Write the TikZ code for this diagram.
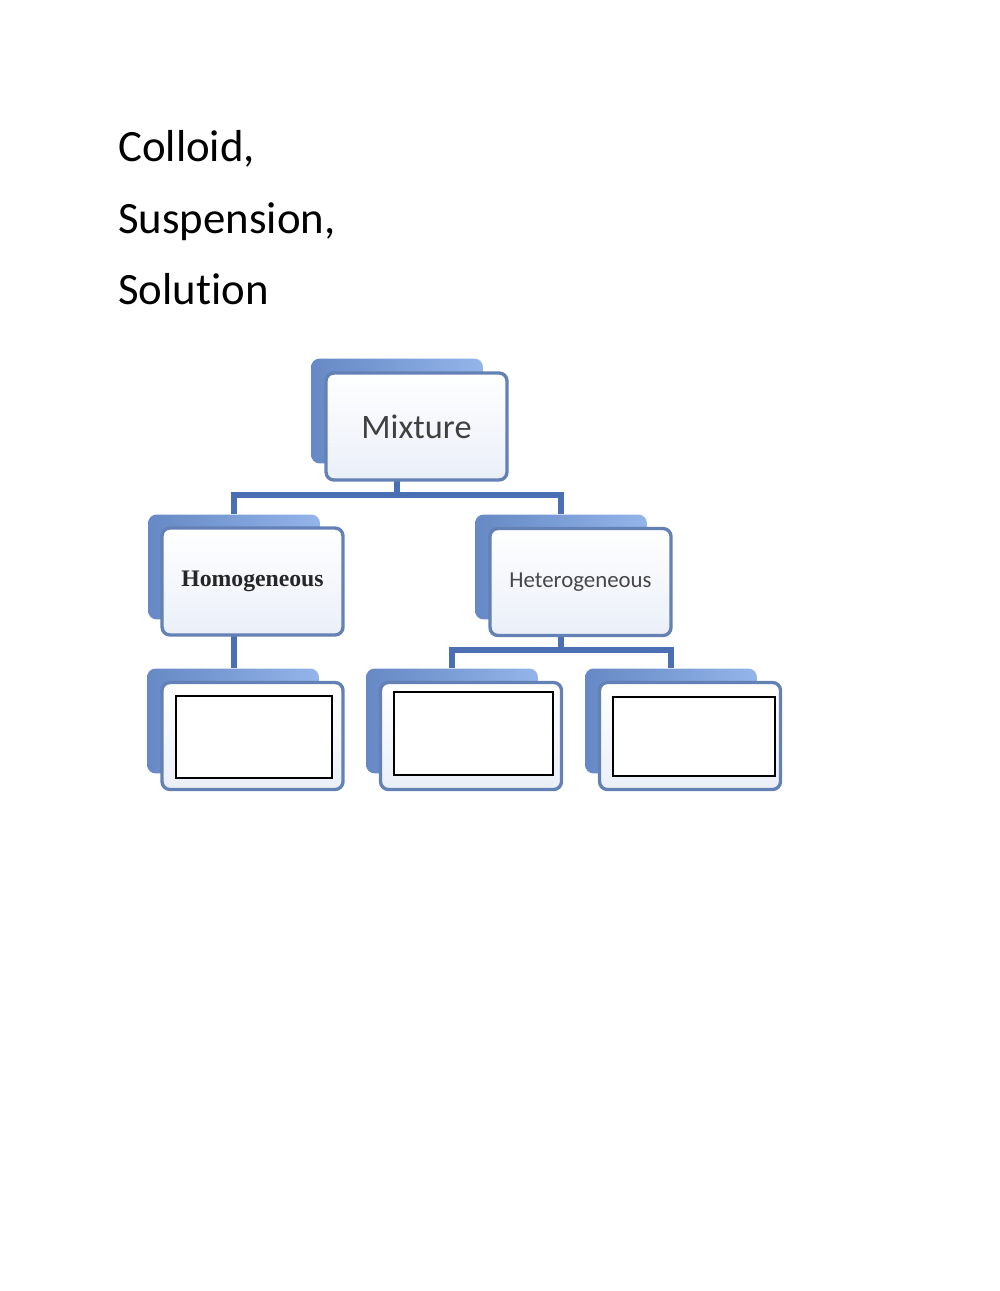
\documentclass[tikz,border=0pt]{standalone}
\usepackage{fontspec}
\setmainfont{Carlito}[Ligatures=NoCommon]
\newfontfamily\titlefont{Liberation Serif}

\definecolor{linkblue}{HTML}{4A70B3}
\definecolor{backdark}{HTML}{6688C4}
\definecolor{backlight}{HTML}{93B5EA}
\definecolor{frameblue}{HTML}{6481B6}
\definecolor{boxfill}{HTML}{EAEFF8}
\definecolor{labelgray}{HTML}{404040}

\begin{document}
\begin{tikzpicture}[x=0.02cm,y=-0.02cm,
  back/.style={rounded corners=5pt,left color=backdark,right color=backlight,
    minimum width=3.44cm,minimum height=2.1cm,inner sep=0pt},
  front/.style={draw=frameblue,line width=1.9pt,rounded corners=4.5pt,
    top color=white,bottom color=boxfill,
    minimum width=3.62cm,minimum height=2.14cm,inner sep=0pt},
  link/.style={draw=linkblue,line width=3.3pt},
  blank/.style={draw=black,line width=0.7pt,fill=white,inner sep=0pt},
  word/.style={anchor=base west,inner sep=0pt,font=\fontsize{25.5}{30}\selectfont}]

\useasboundingbox (0,0) rectangle (1000,1291);

% The word list
\node[word] (colloid) at (118,161) {Colloid,};
\node[word] (suspension) at (118,233) {Suspension,};
\node[word] (solution) at (118,304) {Solution};

% The back boxes
\node[back] (mixb) at (397,411) {};
\node[back] (homob) at (234,567) {};
\node[back] (heterob) at (561,567) {};
\node[back] (b1b) at (233,721) {};
\node[back] (b2b) at (452,721) {};
\node[back] (b3b) at (671,721) {};

% The connectors
\coordinate (bar1) at (0,495);
\coordinate (bar2) at (0,650);
\draw[link] (mixb.center) -- (mixb.center |- bar1) -| (homob.north);
\draw[link] (mixb.center |- bar1) -| (heterob.north);
\draw[link] (homob.center) -- (homob.center |- b1b.north);
\draw[link] (heterob.center) -- (heterob.center |- bar2) -| (b2b.north);
\draw[link] (heterob.center |- bar2) -| (b3b.north);

% The front boxes
\node[front,text=labelgray,font=\fontsize{19.5}{22}\selectfont] (mix) at (416.5,426.5) {Mixture};
\node[front,text=black!85,font=\titlefont\bfseries\fontsize{13.5}{16}\selectfont] (homo) at (252.5,581.5) {Homogeneous};
\node[front,text=black!72,font=\fontsize{13}{16}\selectfont] (hetero) at (580.5,582) {Heterogeneous};
\node[front] (b1) at (252.5,736) {};
\node[front] (b2) at (471,736) {};
\node[front] (b3) at (690,736) {};

% The empty answer fields
\node[blank,minimum width=3.12cm,minimum height=1.64cm] (b1in) at (254,737) {};
\node[blank,minimum width=3.18cm,minimum height=1.66cm] (b2in) at (473.5,733.5) {};
\node[blank,minimum width=3.24cm,minimum height=1.58cm] (b3in) at (694,736.5) {};

\end{tikzpicture}
\end{document}
